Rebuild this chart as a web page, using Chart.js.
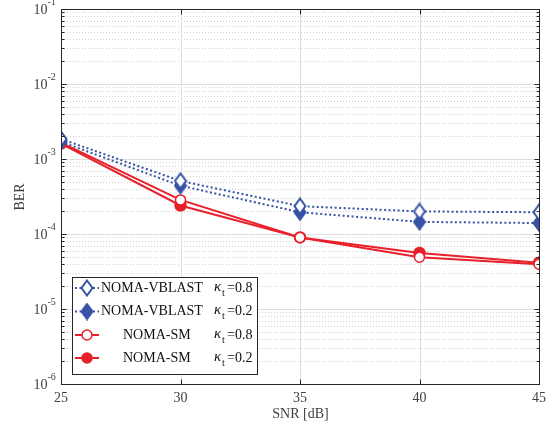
<!DOCTYPE html>
<html>
<head>
<meta charset="utf-8">
<script src="https://cdn.jsdelivr.net/npm/chart.js@4"></script>
<style>
  html, body { margin: 0; background: #fff; }
</style>
</head>
<body>
<canvas id="chart" width="560" height="430"></canvas>
<script>
/* DATA */
const snr = [25, 30, 35, 40, 45];
const vblast08 = [1.85e-3, 5.1e-4, 2.35e-4, 2.0e-4, 1.95e-4];
const vblast02 = [1.7e-3, 4.4e-4, 1.95e-4, 1.45e-4, 1.4e-4];
const sm08 = [1.65e-3, 2.85e-4, 9.0e-5, 4.9e-5, 3.95e-5];
const sm02 = [1.6e-3, 2.4e-4, 9.0e-5, 5.6e-5, 4.15e-5];
const seriesNames = ["NOMA-VBLAST", "NOMA-VBLAST", "NOMA-SM", "NOMA-SM"];
const kappas = ["0.8", "0.2", "0.8", "0.2"];
const xTicks = [25, 30, 35, 40, 45];
const yExps = [-6, -5, -4, -3, -2, -1];

const BLUE = "#3653a5";
const RED = "#e8202a";
const SERIF = "'Liberation Serif', 'DejaVu Serif', serif";

/* MARKERS */
function diamond(fill) {
  let c = document.createElement("canvas");
  c.width = 14; c.height = 18;
  let g = c.getContext("2d");
  g.beginPath();
  g.moveTo(7, 1.5); g.lineTo(12.5, 9); g.lineTo(7, 16.5); g.lineTo(1.5, 9);
  g.closePath();
  g.fillStyle = fill; g.fill();
  g.strokeStyle = BLUE; g.lineWidth = 2; g.stroke();
  return c;
}
const openDiamond = diamond("#fff");
const fullDiamond = diamond(BLUE);

/* PLUGIN: axes, grid, labels, legend */
const frame = {
  id: "frame",
  beforeDatasetsDraw(chart) {
    const { ctx, chartArea: a, scales: { x, y } } = chart;
    ctx.save();
    // minor y grid (dotted)
    ctx.lineWidth = 1;
    ctx.strokeStyle = "#d2d2d2";
    ctx.setLineDash([1, 2]);
    yExps.slice(0, -1).forEach(e => {
      for (let m = 2; m <= 9; m++) {
        let py = Math.round(y.getPixelForValue(m * Math.pow(10, e))) + 0.5;
        ctx.beginPath(); ctx.moveTo(a.left, py); ctx.lineTo(a.right, py); ctx.stroke();
      }
    });
    // major grid
    ctx.setLineDash([]);
    ctx.strokeStyle = "#dedede";
    yExps.forEach(e => {
      let py = Math.round(y.getPixelForValue(Math.pow(10, e))) + 0.5;
      ctx.beginPath(); ctx.moveTo(a.left, py); ctx.lineTo(a.right, py); ctx.stroke();
    });
    xTicks.forEach(v => {
      let px = Math.round(x.getPixelForValue(v)) + 0.5;
      ctx.beginPath(); ctx.moveTo(px, a.top); ctx.lineTo(px, a.bottom); ctx.stroke();
    });
    ctx.restore();
  },
  afterDatasetsDraw(chart) {
    const { ctx, chartArea: a, scales: { x, y } } = chart;
    ctx.save();
    ctx.strokeStyle = "#262626";
    ctx.lineWidth = 1;
    const L = Math.round(a.left) + 0.5, R = Math.round(a.right) + 0.5;
    const T = Math.round(a.top) + 0.5, B = Math.round(a.bottom) + 0.5;
    ctx.strokeRect(L, T, R - L, B - T);

    // ticks inward
    ctx.beginPath();
    xTicks.forEach(v => {
      let px = Math.round(x.getPixelForValue(v)) + 0.5;
      ctx.moveTo(px, B); ctx.lineTo(px, B - 5);
      ctx.moveTo(px, T); ctx.lineTo(px, T + 5);
    });
    yExps.forEach((e, i) => {
      let py = Math.round(y.getPixelForValue(Math.pow(10, e))) + 0.5;
      ctx.moveTo(L, py); ctx.lineTo(L + 5, py);
      ctx.moveTo(R, py); ctx.lineTo(R - 5, py);
      if (i < yExps.length - 1) {
        for (let m = 2; m <= 9; m++) {
          let pm = Math.round(y.getPixelForValue(m * Math.pow(10, e))) + 0.5;
          ctx.moveTo(L, pm); ctx.lineTo(L + 3, pm);
          ctx.moveTo(R, pm); ctx.lineTo(R - 3, pm);
        }
      }
    });
    ctx.stroke();

    // tick labels
    ctx.fillStyle = "#404040";
    ctx.font = "14px " + SERIF;
    ctx.textAlign = "center";
    ctx.textBaseline = "middle";
    xTicks.forEach(v => ctx.fillText(String(v), x.getPixelForValue(v), B + 14));
    yExps.forEach(e => {
      let py = y.getPixelForValue(Math.pow(10, e));
      ctx.font = "10px " + SERIF;
      ctx.textAlign = "left";
      ctx.fillText(String(e), L - 14, py - 7);
      ctx.font = "14px " + SERIF;
      ctx.textAlign = "right";
      ctx.fillText("10", L - 14, py + 1);
    });

    // axis titles
    ctx.textAlign = "center";
    ctx.font = "14px " + SERIF;
    ctx.fillText("SNR [dB]", (L + R) / 2, B + 30);
    ctx.save();
    ctx.translate(20, (T + B) / 2);
    ctx.rotate(-Math.PI / 2);
    ctx.fillText("BER", 0, 0);
    ctx.restore();

    // legend
    const bx = 72.5, by = 277.5, bw = 185, bh = 97;
    ctx.fillStyle = "#fff";
    ctx.fillRect(bx, by, bw, bh);
    ctx.strokeStyle = "#262626";
    ctx.strokeRect(bx, by, bw, bh);
    const rows = [288, 311.5, 335, 358];
    chart.data.datasets.forEach((ds, i) => {
      let ry = rows[i];
      ctx.strokeStyle = ds.borderColor;
      ctx.lineWidth = 2;
      ctx.setLineDash(ds.borderDash || []);
      ctx.beginPath(); ctx.moveTo(75, ry); ctx.lineTo(99, ry); ctx.stroke();
      ctx.setLineDash([]);
      if (ds.pointStyle === "circle") {
        ctx.beginPath(); ctx.arc(87, ry, 5, 0, Math.PI * 2);
        ctx.fillStyle = ds.pointBackgroundColor; ctx.fill();
        ctx.lineWidth = 1.5; ctx.stroke();
      } else {
        ctx.drawImage(ds.pointStyle, 87 - 7, ry - 9);
      }
      ctx.fillStyle = "#111";
      ctx.font = "14px " + SERIF;
      ctx.textAlign = "left";
      ctx.fillText(seriesNames[i], i < 2 ? 101 : 123, ry);
      ctx.font = "italic 15px " + SERIF;
      ctx.fillText("\u03ba", 214, ry - 1);
      ctx.font = "10px " + SERIF;
      ctx.fillText("t", 222, ry + 5);
      ctx.font = "14px " + SERIF;
      ctx.fillText("=" + kappas[i], 227, ry);
    });
    ctx.restore();
  }
};

/* CHART */
new Chart(document.getElementById("chart"), {
  type: "line",
  data: {
    labels: snr,
    datasets: [
      {
        label: seriesNames[0] + " 0.8", data: vblast08,
        borderColor: BLUE, borderWidth: 2, borderDash: [2, 2.5],
        pointStyle: openDiamond
      },
      {
        label: seriesNames[1] + " 0.2", data: vblast02,
        borderColor: BLUE, borderWidth: 2, borderDash: [2, 2.5],
        pointStyle: fullDiamond
      },
      {
        label: seriesNames[2] + " 0.8", data: sm08,
        borderColor: RED, borderWidth: 2,
        pointStyle: "circle", pointRadius: 5, pointBorderWidth: 1.5,
        pointBackgroundColor: "#fff", pointBorderColor: RED
      },
      {
        label: seriesNames[3] + " 0.2", data: sm02,
        borderColor: RED, borderWidth: 2,
        pointStyle: "circle", pointRadius: 5.5, pointBorderWidth: 1.5,
        pointBackgroundColor: RED, pointBorderColor: RED
      }
    ].map(d => Object.assign({ fill: false, tension: 0 }, d))
  },
  options: {
    responsive: false,
    animation: false,
    devicePixelRatio: 1,
    layout: { padding: { left: 61, right: 21, top: 9, bottom: 46 } },
    scales: {
      x: { type: "linear", min: 25, max: 45, display: false },
      y: { type: "logarithmic", min: 1e-6, max: 1e-1, display: false }
    },
    plugins: {
      legend: { display: false },
      tooltip: { enabled: false }
    }
  },
  plugins: [frame]
});
</script>
</body>
</html>
